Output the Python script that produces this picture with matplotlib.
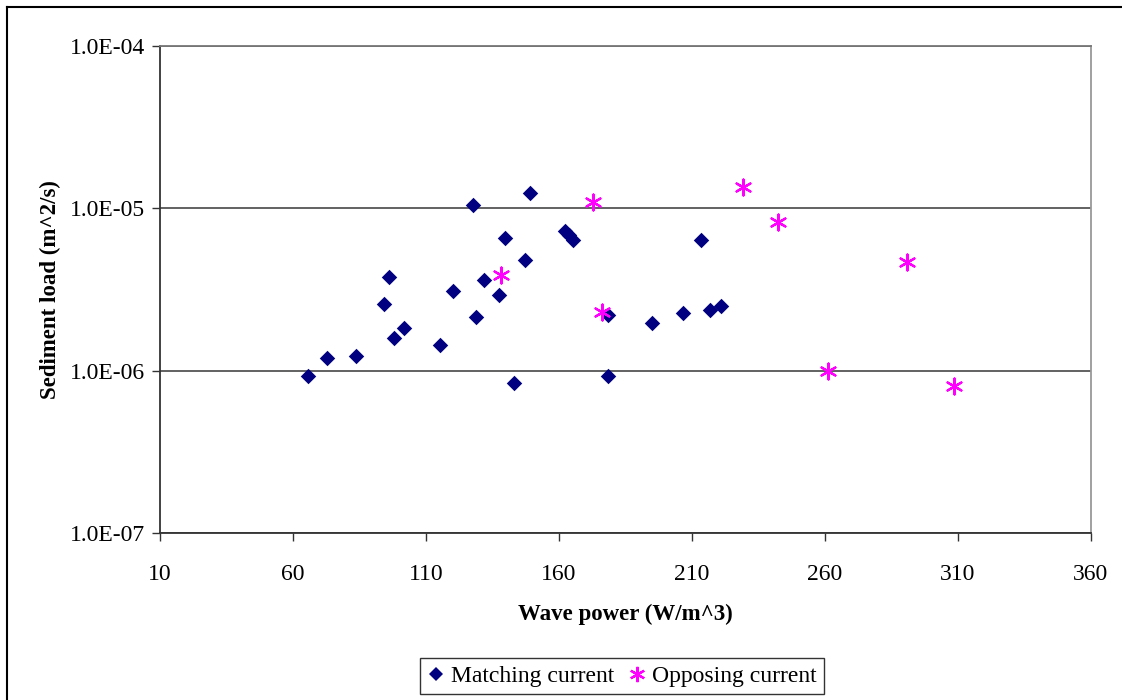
import matplotlib.pyplot as plt
from matplotlib.lines import Line2D

# Matching current (blue diamonds)
match_x = [65.7, 72.7, 83.7, 94.1, 96.1, 98.1, 101.6, 115.4, 120.2, 127.8,
           128.7, 132.0, 137.5, 139.6, 143.1, 147.2, 149.3, 162.3, 163.7, 165.2,
           178.4, 178.4, 194.9, 206.7, 213.6, 217.0, 221.1]
match_y = [9.3e-7, 1.20e-6, 1.24e-6, 2.56e-6, 3.79e-6, 1.60e-6, 1.82e-6, 1.44e-6, 3.08e-6, 1.05e-5,
           2.14e-6, 3.60e-6, 2.91e-6, 6.53e-6, 8.4e-7, 4.78e-6, 1.25e-5, 7.28e-6, 6.88e-6, 6.38e-6,
           2.19e-6, 9.27e-7, 1.97e-6, 2.25e-6, 6.38e-6, 2.37e-6, 2.50e-6]

# Opposing current (magenta asterisks)
opp_x = [138.2, 172.8, 176.2, 229.3, 242.5, 261.2, 290.9, 308.6]
opp_y = [3.88e-6, 1.10e-5, 2.31e-6, 1.35e-5, 8.27e-6, 1.0e-6, 4.65e-6, 8.1e-7]

xticks = [10, 60, 110, 160, 210, 260, 310, 360]
yticks = [1e-7, 1e-6, 1e-5, 1e-4]
ytick_labels = ["1.0E-07", "1.0E-06", "1.0E-05", "1.0E-04"]

plt.rcParams['font.family'] = ['Liberation Serif', 'DejaVu Serif']

fig = plt.figure(figsize=(11.22, 7.0), dpi=100)
ax = fig.add_axes([160 / 1122, 1 - 533 / 700, 930.7 / 1122, 487 / 700])

ax.scatter(match_x, match_y, marker='D', s=62, color='#000080', linewidths=0, zorder=3)
ax.scatter(opp_x, opp_y, marker=(6, 2, 0), s=130, color='#FF00FF', linewidths=1.6, zorder=3)

ax.set_yscale('log')
ax.set_xlim(10, 360)
ax.set_ylim(1e-7, 1e-4)
ax.set_xticks(xticks)
ax.set_xticklabels([str(t) for t in xticks])
ax.set_yticks(yticks)
ax.set_yticklabels(ytick_labels)
ax.yaxis.set_minor_locator(plt.NullLocator())

ax.grid(axis='y', color='#555555', linewidth=1.3)
ax.set_axisbelow(True)
ax.tick_params(axis='both', labelsize=17, direction='out', length=6, width=1, color='#333333')
ax.tick_params(axis='x', pad=16)
ax.tick_params(axis='y', pad=5)

for side in ['left', 'bottom']:
    ax.spines[side].set_color('#333333')
    ax.spines[side].set_linewidth(1.3)
ax.spines['top'].set_color('#777777')
ax.spines['top'].set_linewidth(1.3)
ax.spines['right'].set_color('#999999')
ax.spines['right'].set_linewidth(1.3)

ax.set_xlabel("Wave power (W/m^3)", fontsize=16.5, fontweight='bold', labelpad=14)
ax.set_ylabel("Sediment load (m^2/s)", fontsize=16.5, fontweight='bold', labelpad=6)

handles = [
    Line2D([], [], marker='D', linestyle='none', color='#000080', markersize=7.5, markeredgewidth=0),
    Line2D([], [], marker=(6, 2, 0), linestyle='none', color='#FF00FF', markersize=11, markeredgewidth=1.6),
]
leg = fig.legend(handles, ["Matching current", "Opposing current"],
                 loc='center', bbox_to_anchor=(622 / 1122, 1 - 676 / 700),
                 ncol=2, fontsize=17, frameon=True, fancybox=False,
                 handlelength=0.7, handletextpad=0.3, columnspacing=0.6,
                 borderpad=0.3)
leg.get_frame().set_edgecolor('black')
leg.get_frame().set_linewidth(1.0)

# outer chart border (left and top edges visible)
fig.add_artist(Line2D([7 / 1122, 7 / 1122], [0, 1 - 7 / 700], color='black', linewidth=1.5))
fig.add_artist(Line2D([7 / 1122, 1], [1 - 7 / 700, 1 - 7 / 700], color='black', linewidth=1.5))

fig.savefig("out.png", dpi=100)
